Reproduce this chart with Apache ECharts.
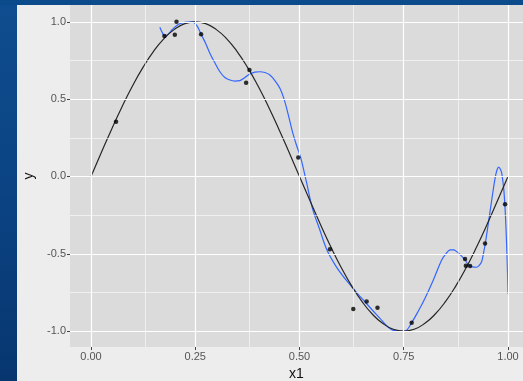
<!DOCTYPE html>
<html>
<head>
<meta charset="utf-8">
<script src="https://cdn.jsdelivr.net/npm/echarts@6/dist/echarts.min.js"></script>
<style>
  html, body { margin: 0; padding: 0; }
  body { width: 523px; height: 381px; position: relative; overflow: hidden; background: #0a3d7a; }
  .strip { position: absolute; left: 0; top: 0; width: 17px; height: 381px;
    background: linear-gradient(180deg, #0e4d8f 0%, #0b4383 50%, #07366f 100%); }
  .band { position: absolute; left: 0; top: 0; width: 523px; height: 5px; background: #0b4a8b; }
  #chart { position: absolute; left: 0; top: 0; width: 523px; height: 381px; }
</style>
</head>
<body>
<div class="strip"></div>
<div class="band"></div>
<div id="chart"></div>
<script>
// observed points (x1, y)
const pointX = [0.06, 0.176, 0.201, 0.205, 0.264, 0.372, 0.38, 0.497, 0.573, 0.629, 0.661, 0.687, 0.769, 0.897, 0.899, 0.909, 0.945, 0.993]
const pointY = [0.354, 0.908, 0.916, 1.0, 0.919, 0.606, 0.688, 0.122, -0.471, -0.857, -0.809, -0.848, -0.945, -0.533, -0.577, -0.579, -0.434, -0.18]

// true curve (black)
const curveX = [0, 0.025, 0.05, 0.075, 0.1, 0.125, 0.15, 0.175, 0.2, 0.225, 0.25, 0.275, 0.3, 0.325, 0.35, 0.375, 0.4, 0.425, 0.45, 0.475, 0.5,
  0.525, 0.55, 0.575, 0.6, 0.625, 0.65, 0.675, 0.7, 0.725, 0.75, 0.775, 0.8, 0.825, 0.85, 0.875, 0.9, 0.925, 0.95, 0.975, 1]
const curveY = [0, 0.156, 0.309, 0.454, 0.588, 0.707, 0.809, 0.891, 0.951, 0.988, 1, 0.988, 0.951, 0.891, 0.809, 0.707, 0.588, 0.454, 0.309, 0.156, 0,
  -0.156, -0.309, -0.454, -0.588, -0.707, -0.809, -0.891, -0.951, -0.988, -1, -0.988, -0.951, -0.891, -0.809, -0.707, -0.588, -0.454, -0.309, -0.156, 0]

// fitted curve (blue), three pieces
const fitAX = [0.165, 0.171, 0.177, 0.185, 0.195, 0.205, 0.215, 0.23, 0.25]
const fitAY = [0.965, 0.93, 0.908, 0.92, 0.95, 0.975, 0.99, 0.998, 1.0]
const fitBX = [0.245, 0.255, 0.264, 0.275, 0.285, 0.297, 0.309, 0.321, 0.333, 0.345, 0.357, 0.369, 0.381, 0.393, 0.405, 0.417, 0.429, 0.441, 0.453,
  0.463, 0.473, 0.483, 0.493, 0.503, 0.517, 0.531, 0.548, 0.565, 0.585, 0.603, 0.621, 0.639, 0.657, 0.675, 0.693, 0.707, 0.721, 0.735, 0.75]
const fitBY = [1.0, 0.97, 0.92, 0.86, 0.796, 0.735, 0.677, 0.64, 0.624, 0.617, 0.62, 0.64, 0.663, 0.675, 0.677, 0.672, 0.656, 0.62, 0.57,
  0.5, 0.4, 0.29, 0.2, 0.12, -0.04, -0.206, -0.34, -0.47, -0.57, -0.64, -0.7, -0.757, -0.81, -0.865, -0.917, -0.96, -0.99, -1.0, -1.0]
const fitCX = [0.75, 0.753, 0.769, 0.785, 0.801, 0.821, 0.841, 0.851, 0.861, 0.869, 0.877, 0.887, 0.897, 0.905, 0.913, 0.925, 0.931, 0.937, 0.941,
  0.945, 0.953, 0.961, 0.969, 0.974, 0.978, 0.982, 0.985, 0.99, 0.994, 0.998, 1.0]
const fitCY = [-1.0, -1.0, -0.945, -0.87, -0.787, -0.669, -0.54, -0.5, -0.475, -0.474, -0.486, -0.51, -0.54, -0.57, -0.583, -0.587, -0.575, -0.55, -0.5,
  -0.443, -0.3, -0.152, -0.012, 0.045, 0.06, 0.045, 0.021, -0.087, -0.26, -0.54, -0.76]

// axis breaks
const xBreaks = [0, 0.25, 0.5, 0.75, 1]
const xMinor = [0.125, 0.375, 0.625, 0.875]
const yBreaks = [-1, -0.5, 0, 0.5, 1]
const yMinor = [-0.75, -0.25, 0.25, 0.75]

const zip = (xs, ys) => xs.map((x, i) => [x, ys[i]])

const chart = echarts.init(document.getElementById('chart'))

const gridLine = (w) => ({ color: '#ffffff', width: w, type: 'solid', opacity: 1 })
const markData = []
xMinor.forEach(v => markData.push({ xAxis: v, lineStyle: gridLine(0.6) }))
yMinor.forEach(v => markData.push({ yAxis: v, lineStyle: gridLine(0.6) }))
xBreaks.forEach(v => markData.push({ xAxis: v, lineStyle: gridLine(1.2) }))
yBreaks.forEach(v => markData.push({ yAxis: v, lineStyle: gridLine(1.2) }))

const blueLine = (xs, ys) => ({
  type: 'line',
  data: zip(xs, ys),
  smooth: 0.35,
  showSymbol: false,
  symbol: 'none',
  z: 3,
  lineStyle: { color: '#3366ff', width: 1.2 },
  silent: true
})

const option = {
  animation: false,
  backgroundColor: 'transparent',
  graphic: [
    { type: 'rect', shape: { x: 17, y: 5, width: 506, height: 376 }, style: { fill: '#ededed' }, z: -10, silent: true }
  ],
  grid: {
    left: 70,
    right: 0,
    top: 5,
    bottom: 34,
    outerBoundsMode: 'none',
    containLabel: false,
    show: true,
    backgroundColor: '#dbdbdb',
    borderWidth: 0
  },
  xAxis: {
    type: 'value',
    min: -0.0504,
    max: 1.036,
    name: 'x1',
    nameLocation: 'middle',
    nameGap: 13,
    nameTextStyle: { color: '#111', fontSize: 14, fontFamily: 'Liberation Sans' },
    axisLine: { show: false, onZero: false },
    splitLine: { show: false },
    axisTick: { show: true, length: 3, customValues: xBreaks, lineStyle: { color: '#444', width: 1 } },
    axisLabel: {
      customValues: xBreaks,
      margin: 4,
      color: '#555',
      fontSize: 11,
      fontFamily: 'Liberation Sans',
      formatter: v => v.toFixed(2)
    }
  },
  yAxis: {
    type: 'value',
    min: -1.1025,
    max: 1.1085,
    name: 'y',
    nameLocation: 'middle',
    nameGap: 25,
    nameRotate: 90,
    nameTextStyle: { color: '#111', fontSize: 14, fontFamily: 'Liberation Sans' },
    axisLine: { show: false, onZero: false },
    splitLine: { show: false },
    axisTick: { show: true, length: 3, customValues: yBreaks, lineStyle: { color: '#444', width: 1 } },
    axisLabel: {
      customValues: yBreaks,
      margin: 4,
      color: '#555',
      fontSize: 11,
      fontFamily: 'Liberation Sans',
      formatter: v => v.toFixed(1)
    }
  },
  series: [
    {
      type: 'line',
      data: [],
      z: 1,
      silent: true,
      markLine: {
        silent: true,
        symbol: ['none', 'none'],
        label: { show: false },
        animation: false,
        data: markData
      }
    },
    blueLine(fitAX, fitAY),
    blueLine(fitBX, fitBY),
    blueLine(fitCX, fitCY),
    {
      type: 'line',
      data: zip(curveX, curveY),
      smooth: true,
      showSymbol: false,
      symbol: 'none',
      z: 4,
      lineStyle: { color: '#262626', width: 1.2 },
      silent: true
    },
    {
      type: 'scatter',
      data: zip(pointX, pointY),
      symbolSize: 4.5,
      z: 5,
      itemStyle: { color: '#000' },
      silent: true
    }
  ]
}

chart.setOption(option)
</script>
</body>
</html>
